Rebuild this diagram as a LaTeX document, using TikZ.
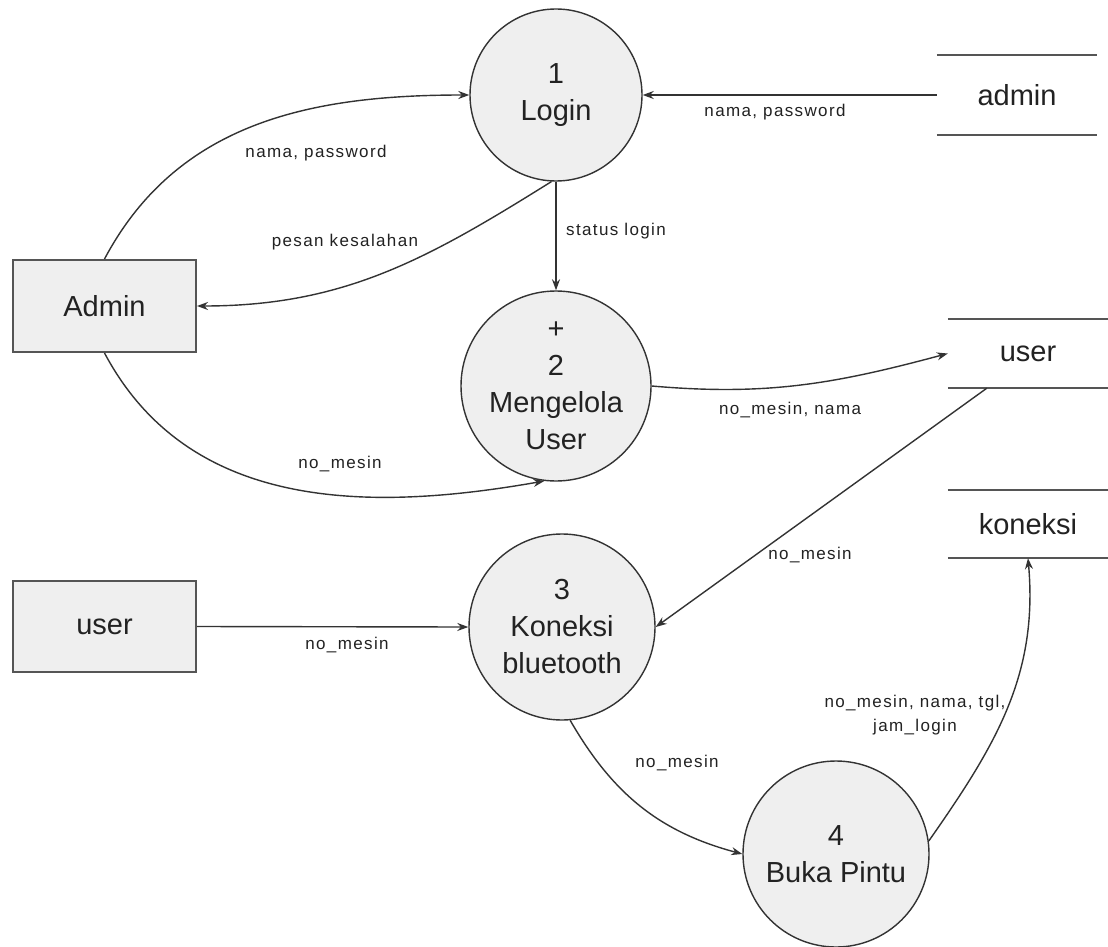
\documentclass[tikz,border=0pt]{standalone}
\usepackage{fontspec}
\setmainfont{Liberation Sans}
\newfontfamily\lblfont{Liberation Sans}[LetterSpace=8]
\usetikzlibrary{arrows.meta}
\definecolor{fillg}{HTML}{EFEFEF}
\definecolor{linec}{HTML}{333333}
\definecolor{txt}{HTML}{222222}
\definecolor{storec}{HTML}{555555}
\begin{document}
\begin{tikzpicture}[x=1pt,y=-1pt,
 proc/.style={circle,draw=linec,line width=1.4pt,fill=fillg,align=center,inner sep=0pt,font=\fontsize{29}{37}\selectfont,text=txt},
 ent/.style={rectangle,draw=storec,line width=2pt,fill=fillg,inner sep=0pt,font=\fontsize{29}{34}\selectfont,text=txt},
 store/.style={inner sep=0pt,minimum width=160pt,font=\fontsize{29}{34}\selectfont,text=txt},
 storeline/.style={draw=storec,line width=1.8pt},
 flow/.style={draw=linec,line width=1.4pt,-{Stealth[length=11pt,width=8pt]}},
 lbl/.style={font=\lblfont\fontsize{17}{24}\selectfont,text=txt,align=center,inner sep=0pt},
]
\useasboundingbox[fill=white] (0,0) rectangle (1108,947);

% processes
\node[proc,minimum size=172pt] (login) at (556,95) {1\\Login};
\node[proc,minimum size=190pt] (mengelola) at (556,386) {+\\2\\Mengelola\\User};
\node[proc,minimum size=186pt] (koneksi) at (562,627) {3\\Koneksi\\bluetooth};
\node[proc,minimum size=186pt] (buka) at (836,854) {4\\Buka Pintu};

% external entities
\node[ent,minimum width=183pt,minimum height=92pt] (admin) at (104.5,306) {Admin};
\node[ent,minimum width=183pt,minimum height=91pt] (userent) at (104.5,626.5) {user};

% data stores
\node[store,minimum height=80pt] (adminstore) at (1017,95) {admin};
\node[store,minimum height=69pt] (userstore) at (1028,353.5) {user};
\node[store,minimum height=68pt] (kstore) at (1028,524) {koneksi};
\foreach \s in {adminstore,userstore,kstore}{
  \draw[storeline] (\s.north west) -- (\s.north east);
  \draw[storeline] (\s.south west) -- (\s.south east);
}

% flows
\draw[flow] (admin.north) to[out=62,in=180] (login.west);
\node[lbl] (l1) at (316,153) {nama, password};

\draw[flow] (login.-93) to[out=-148,in=0] (admin.east);
\node[lbl] (l2) at (345,242) {pesan kesalahan};

\draw[flow] (adminstore.west) -- (login.east);
\node[lbl] (l3) at (775,112) {nama, password};

\draw[flow] (login.south) -- (mengelola.north);
\node[lbl,anchor=west] (l4) at (566,231) {status login};

\draw[flow] (admin.south) to[out=-62,in=190] (mengelola.-97);
\node[lbl] (l5) at (340,464) {no\_mesin};

\draw[flow] (mengelola.east) to[out=-5,in=195] (userstore.west);
\node[lbl] (l6) at (790,410) {no\_mesin, nama};

\coordinate (usout) at ([xshift=39pt]userstore.south west);
\draw[flow] (usout) -- (koneksi.east);
\node[lbl] (l7) at (810,555) {no\_mesin};

\draw[flow] (userent.east) -- (koneksi.west);
\node[lbl] (l8) at (347,645) {no\_mesin};

\draw[flow] (koneksi.-85) to[out=-60,in=165] (buka.west);
\node[lbl] (l9) at (677,763) {no\_mesin};

\draw[flow] (buka.8) to[out=55,in=-85] (kstore.south);
\node[lbl] (l10) at (915,715) {no\_mesin, nama, tgl,\\jam\_login};
\end{tikzpicture}
\end{document}
